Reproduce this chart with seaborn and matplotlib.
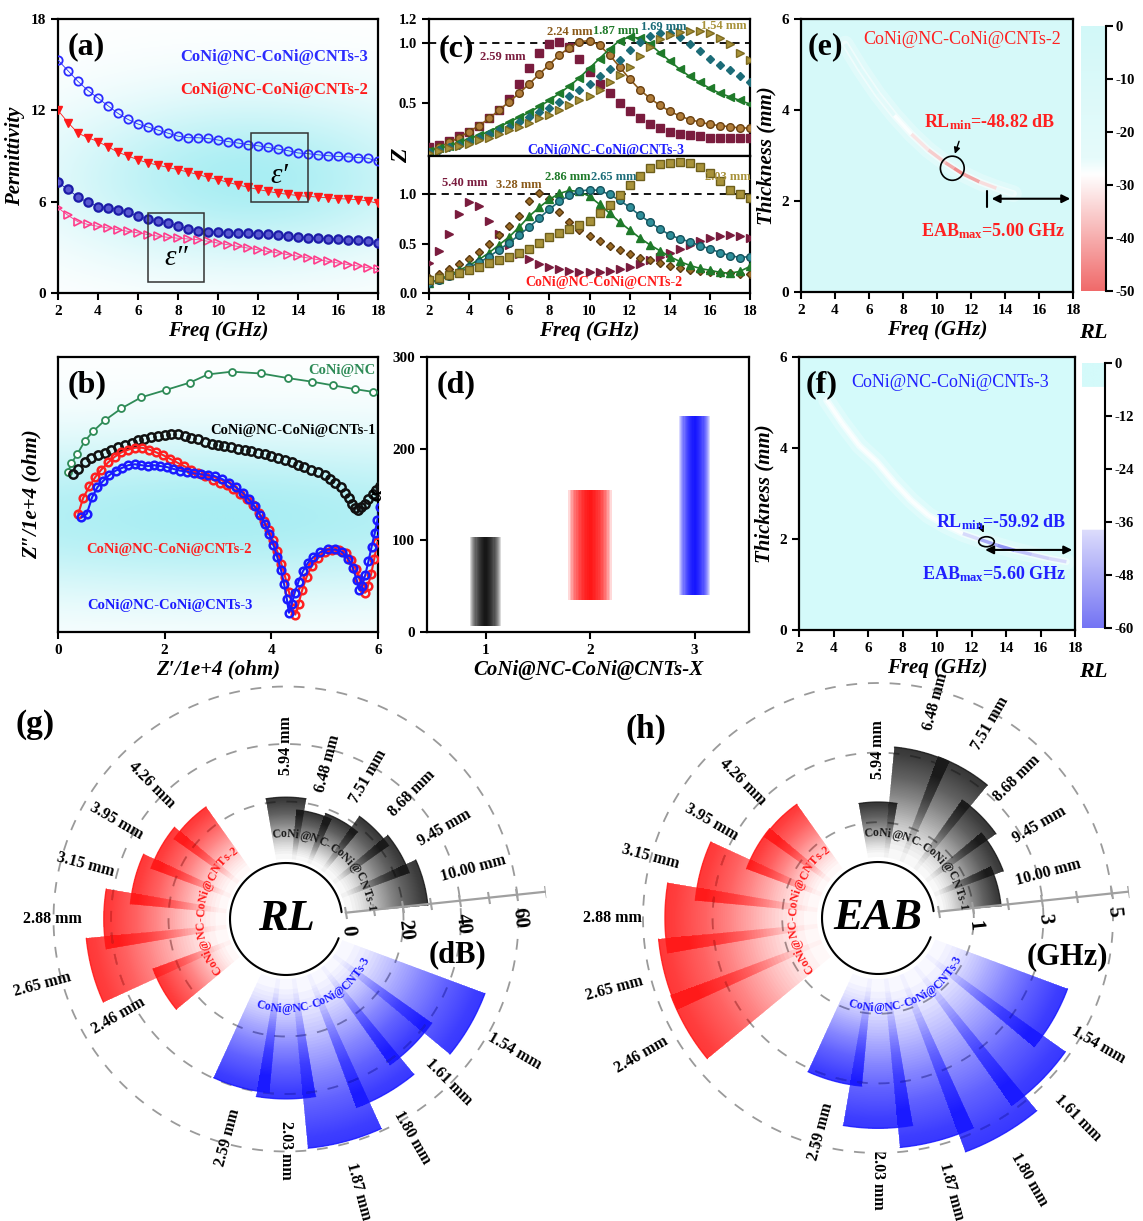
import numpy as np
import matplotlib
matplotlib.use("Agg")
import matplotlib.pyplot as plt
import seaborn as sns
from matplotlib.colors import LinearSegmentedColormap, Normalize
from matplotlib.collections import LineCollection
from matplotlib.patches import Rectangle, Ellipse
from matplotlib.markers import MarkerStyle
from matplotlib.transforms import Affine2D
from matplotlib.textpath import TextToPath
from matplotlib.font_manager import FontProperties
from matplotlib.ticker import FormatStrFormatter

# ---------------- data ----------------
freq = [2.0, 2.5, 3.0, 3.5, 4.0, 4.5, 5.0, 5.5, 6.0, 6.5, 7.0, 7.5, 8.0, 8.5, 9.0, 9.5, 10.0,
        10.5, 11.0, 11.5, 12.0, 12.5, 13.0, 13.5, 14.0, 14.5, 15.0, 15.5, 16.0, 16.5, 17.0, 17.5, 18.0]

# (a) permittivity
eps1_s3 = [15.3, 14.6, 13.9, 13.3, 12.8, 12.3, 11.8, 11.4, 11.1, 10.9, 10.7, 10.5, 10.3, 10.2, 10.2, 10.15, 10.05,
           9.95, 9.85, 9.75, 9.67, 9.56, 9.45, 9.35, 9.2, 9.15, 9.08, 9.02, 8.97, 8.94, 8.9, 8.85, 8.65]
eps1_s2 = [12.0, 11.2, 10.5, 10.2, 9.95, 9.6, 9.25, 9.0, 8.75, 8.55, 8.4, 8.25, 8.1, 7.95, 7.78, 7.6, 7.45,
           7.27, 7.1, 6.95, 6.8, 6.68, 6.56, 6.48, 6.4, 6.35, 6.3, 6.25, 6.2, 6.17, 6.13, 6.05, 5.88]
eps2_s3 = [7.26, 6.8, 6.3, 5.95, 5.68, 5.6, 5.48, 5.3, 5.05, 4.85, 4.72, 4.58, 4.42, 4.2, 4.05, 4.02, 4.0,
           3.97, 3.94, 3.92, 3.9, 3.85, 3.8, 3.74, 3.68, 3.64, 3.6, 3.57, 3.54, 3.5, 3.46, 3.4, 3.28]
eps2_s2 = [5.6, 5.1, 4.68, 4.5, 4.38, 4.27, 4.16, 4.05, 3.95, 3.84, 3.73, 3.66, 3.6, 3.55, 3.5, 3.4, 3.28,
           3.17, 3.06, 2.95, 2.84, 2.73, 2.63, 2.52, 2.41, 2.3, 2.19, 2.08, 1.97, 1.87, 1.77, 1.66, 1.55]

# (c) impedance matching, CNTs-3 (top) and CNTs-2 (bottom)
z3_259 = [0.13, 0.15, 0.18, 0.22, 0.26, 0.31, 0.37, 0.44, 0.53, 0.66, 0.79, 0.92, 0.99, 1.01, 0.97, 0.87, 0.76,
          0.66, 0.58, 0.50, 0.43, 0.37, 0.32, 0.29, 0.26, 0.24, 0.23, 0.22, 0.21, 0.21, 0.21, 0.21, 0.21]
z3_224 = [0.10, 0.13, 0.17, 0.21, 0.26, 0.31, 0.37, 0.44, 0.51, 0.58, 0.66, 0.74, 0.82, 0.90, 0.96, 1.01, 1.02,
          0.98, 0.90, 0.80, 0.70, 0.61, 0.54, 0.48, 0.43, 0.39, 0.36, 0.34, 0.32, 0.31, 0.30, 0.29, 0.29]
z3_187 = [0.10, 0.12, 0.14, 0.17, 0.20, 0.23, 0.26, 0.30, 0.34, 0.38, 0.42, 0.47, 0.52, 0.58, 0.64, 0.71, 0.79,
          0.87, 0.95, 1.02, 1.05, 1.04, 0.99, 0.92, 0.85, 0.78, 0.72, 0.67, 0.62, 0.58, 0.55, 0.52, 0.49]
z3_169 = [0.09, 0.11, 0.13, 0.15, 0.18, 0.21, 0.24, 0.27, 0.30, 0.34, 0.38, 0.42, 0.46, 0.51, 0.56, 0.61, 0.66,
          0.72, 0.78, 0.86, 0.94, 1.01, 1.06, 1.08, 1.08, 1.05, 0.99, 0.93, 0.87, 0.82, 0.77, 0.72, 0.67]
z3_154 = [0.08, 0.10, 0.12, 0.14, 0.16, 0.19, 0.21, 0.24, 0.27, 0.30, 0.33, 0.37, 0.40, 0.44, 0.48, 0.52, 0.56,
          0.61, 0.67, 0.73, 0.80, 0.89, 0.97, 1.03, 1.07, 1.09, 1.10, 1.10, 1.08, 1.04, 0.99, 0.92, 0.86]
z2_540 = [0.30, 0.43, 0.60, 0.80, 0.92, 0.88, 0.73, 0.60, 0.49, 0.40, 0.34, 0.29, 0.26, 0.24, 0.22, 0.21, 0.21,
          0.21, 0.22, 0.24, 0.26, 0.29, 0.33, 0.37, 0.41, 0.45, 0.49, 0.53, 0.56, 0.58, 0.59, 0.58, 0.56]
z2_328 = [0.15, 0.19, 0.24, 0.29, 0.35, 0.42, 0.50, 0.59, 0.68, 0.78, 0.93, 1.01, 0.95, 0.82, 0.72, 0.64, 0.58,
          0.53, 0.48, 0.44, 0.40, 0.36, 0.33, 0.30, 0.27, 0.25, 0.23, 0.22, 0.21, 0.20, 0.20, 0.19, 0.19]
z2_286 = [0.10, 0.14, 0.18, 0.23, 0.28, 0.34, 0.41, 0.49, 0.57, 0.67, 0.78, 0.87, 0.95, 1.01, 1.04, 1.03, 0.98,
          0.90, 0.81, 0.72, 0.64, 0.56, 0.49, 0.43, 0.37, 0.32, 0.28, 0.25, 0.23, 0.21, 0.20, 0.22, 0.27]
z2_265 = [0.10, 0.13, 0.17, 0.21, 0.26, 0.31, 0.37, 0.44, 0.51, 0.59, 0.67, 0.76, 0.85, 0.93, 0.99, 1.03, 1.05,
          1.04, 1.00, 0.94, 0.87, 0.79, 0.72, 0.65, 0.59, 0.55, 0.52, 0.48, 0.45, 0.41, 0.38, 0.36, 0.37]
z2_203 = [0.13, 0.15, 0.18, 0.20, 0.23, 0.26, 0.30, 0.33, 0.37, 0.41, 0.45, 0.51, 0.57, 0.61, 0.65, 0.69, 0.73,
          0.81, 0.89, 0.99, 1.10, 1.19, 1.27, 1.31, 1.32, 1.33, 1.32, 1.28, 1.22, 1.14, 1.05, 1.00, 0.96]

# (b) Cole-Cole type curves
b_nc_x = [0.19, 0.25, 0.36, 0.50, 0.66, 0.88, 1.19, 1.56, 2.02, 2.47, 2.81, 3.26, 3.81, 4.31, 4.77, 5.16, 5.56, 5.90]
b_nc_y = [1.75, 1.84, 1.94, 2.08, 2.19, 2.31, 2.44, 2.56, 2.64, 2.72, 2.81, 2.84, 2.82, 2.77, 2.73, 2.69, 2.65, 2.62]
b_s1_x = [0.28, 0.38, 0.50, 0.62, 0.75, 0.88, 1.00, 1.12, 1.25, 1.38, 1.50, 1.62, 1.75, 1.88, 2.00, 2.12, 2.25, 2.38,
          2.50, 2.62, 2.75, 2.88, 3.00, 3.12, 3.25, 3.38, 3.50, 3.62, 3.75, 3.88, 4.00, 4.12, 4.25, 4.38, 4.50, 4.62,
          4.75, 4.88, 5.00, 5.10, 5.20, 5.30, 5.38, 5.45, 5.52, 5.57, 5.62, 5.68, 5.75, 5.82, 5.90, 5.97, 6.03]
b_s1_y = [1.72, 1.78, 1.85, 1.90, 1.93, 1.95, 1.98, 2.02, 2.04, 2.06, 2.09, 2.11, 2.13, 2.14, 2.15, 2.16, 2.16, 2.14,
          2.12, 2.10, 2.07, 2.05, 2.04, 2.03, 2.02, 2.00, 1.99, 1.97, 1.95, 1.94, 1.92, 1.90, 1.88, 1.85, 1.82, 1.80,
          1.77, 1.74, 1.71, 1.67, 1.63, 1.58, 1.52, 1.46, 1.40, 1.35, 1.33, 1.36, 1.40, 1.45, 1.50, 1.55, 1.59]
b_s2_x = [0.38, 0.47, 0.59, 0.70, 0.81, 0.94, 1.06, 1.19, 1.32, 1.45, 1.58, 1.71, 1.84, 1.97, 2.10, 2.23, 2.36, 2.50,
          2.63, 2.76, 2.90, 3.03, 3.16, 3.29, 3.42, 3.55, 3.66, 3.76, 3.86, 3.95, 4.03, 4.11, 4.19, 4.26, 4.33, 4.40,
          4.45, 4.51, 4.58, 4.66, 4.76, 4.88, 5.01, 5.14, 5.27, 5.40, 5.50, 5.58, 5.65, 5.71, 5.76, 5.81, 5.87, 5.93, 5.99]
b_s2_y = [1.29, 1.46, 1.59, 1.69, 1.77, 1.85, 1.91, 1.96, 1.99, 2.01, 2.01, 1.99, 1.96, 1.93, 1.89, 1.85, 1.81, 1.77,
          1.73, 1.70, 1.66, 1.63, 1.60, 1.56, 1.51, 1.45, 1.38, 1.30, 1.21, 1.11, 1.00, 0.88, 0.74, 0.60, 0.44, 0.26,
          0.19, 0.31, 0.46, 0.60, 0.72, 0.81, 0.87, 0.89, 0.89, 0.86, 0.79, 0.69, 0.58, 0.48, 0.43, 0.50, 0.63, 0.80, 0.98]
b_s3_x = [0.44, 0.54, 0.64, 0.74, 0.85, 0.96, 1.08, 1.20, 1.32, 1.44, 1.56, 1.68, 1.80, 1.92, 2.04, 2.16, 2.29, 2.42,
          2.55, 2.68, 2.81, 2.94, 3.07, 3.20, 3.33, 3.46, 3.58, 3.69, 3.79, 3.88, 3.96, 4.04, 4.11, 4.18, 4.24, 4.29,
          4.33, 4.38, 4.44, 4.51, 4.59, 4.68, 4.79, 4.92, 5.06, 5.20, 5.33, 5.44, 5.53, 5.60, 5.65, 5.70, 5.76, 5.82,
          5.88, 5.94, 5.99, 6.03]
b_s3_y = [1.25, 1.29, 1.47, 1.58, 1.65, 1.71, 1.76, 1.79, 1.82, 1.83, 1.82, 1.81, 1.82, 1.81, 1.80, 1.78, 1.76, 1.75,
          1.73, 1.72, 1.71, 1.70, 1.67, 1.63, 1.58, 1.52, 1.45, 1.37, 1.28, 1.18, 1.07, 0.95, 0.82, 0.68, 0.52, 0.36,
          0.21, 0.30, 0.43, 0.55, 0.66, 0.75, 0.82, 0.87, 0.90, 0.90, 0.87, 0.80, 0.70, 0.57, 0.46, 0.50, 0.62, 0.77,
          0.93, 1.08, 1.22, 1.36]

# (d) attenuation constant range
samples_d = [1, 2, 3]
alpha_low = [6.0, 34.5, 40.7]
alpha_high = [103.6, 155.3, 235.6]

# (e)/(f) RL map ridges (freq, thickness, RL)
ridge_e_f = [4.6, 5.5, 6.5, 7.5, 8.5, 9.5, 10.5, 11.0, 11.5, 12.5, 13.5, 14.5]
ridge_e_t = [5.45, 4.90, 4.35, 3.88, 3.47, 3.12, 2.84, 2.72, 2.60, 2.42, 2.28, 2.16]
ridge_e_rl = [-10, -13, -18, -28, -33, -37, -43, -48.8, -44, -34, -25, -18]
ridge_f_f = [3.6, 4.5, 5.5, 6.5, 7.5, 8.5, 9.5, 10.5, 11.5, 12.5, 13.5, 14.5, 15.5, 16.5, 17.5]
ridge_f_t = [5.05, 4.55, 4.05, 3.70, 3.25, 2.85, 2.52, 2.30, 2.12, 1.99, 1.86, 1.75, 1.66, 1.57, 1.50]
ridge_f_rl = [-8, -10, -12, -15, -18, -22, -28, -34, -40, -52, -58, -46, -42, -40, -38]

# (g)/(h) polar bars per sample group
thick_1 = ["5.94", "6.48", "7.51", "8.68", "9.45", "10.00"]
thick_2 = ["4.26", "3.95", "3.15", "2.88", "2.65", "2.46"]
thick_3 = ["2.59", "2.03", "1.87", "1.80", "1.61", "1.54"]
rl_1 = [21.5, 17.2, 18.3, 23.0, 24.9, 28.7]
rl_2 = [27.0, 29.3, 33.5, 42.5, 48.9, 28.5]
rl_3 = [39.8, 41.7, 59.2, 49.1, 41.4, 53.0]
eab_1 = [1.58, 3.18, 3.19, 2.41, 2.09, 1.80]
eab_2 = [2.26, 2.28, 3.52, 4.37, 4.58, 4.60]
eab_3 = [3.10, 4.29, 4.87, 5.42, 4.86, 4.06]
names = ["CoNi@NC-CoNi@CNTs-1", "CoNi@NC-CoNi@CNTs-2", "CoNi@NC-CoNi@CNTs-3"]

# ---------------- style ----------------
sns.set_theme(style="ticks")
plt.rcParams["font.family"] = ["Liberation Serif", "DejaVu Serif"]
plt.rcParams.update({
    "font.weight": "bold", "axes.labelweight": "bold", "axes.unicode_minus": False,
    "text.color": "black", "axes.labelcolor": "black", "axes.edgecolor": "black",
    "xtick.color": "black", "ytick.color": "black",
    "mathtext.fontset": "custom", "mathtext.rm": "Liberation Serif:bold",
    "mathtext.it": "Liberation Serif:italic:bold", "mathtext.bf": "Liberation Serif:bold",
})

W, H = 1143, 1221
fig = plt.figure(figsize=(W / 100, H / 100), dpi=100)


def add_ax(l, t, r, b, **kw):
    return fig.add_axes([l / W, 1 - b / H, (r - l) / W, (b - t) / H], **kw)


def frame(ax, size=11):
    for s in ax.spines.values():
        s.set_visible(True)
        s.set_linewidth(1.6)
        s.set_color("black")
    ax.tick_params(direction="out", length=5, width=1.5, labelsize=size, top=False, right=False)


def line(ax, x, y, color, marker, ms, ls="-", lw=1.2, mfc=None, mec=None, mew=1.0, z=3):
    sns.lineplot(x=x, y=y, ax=ax, color=color, marker=marker, markersize=ms, linestyle=ls, linewidth=lw,
                 markerfacecolor=color if mfc is None else mfc, markeredgecolor=color if mec is None else mec,
                 markeredgewidth=mew, estimator=None, sort=False, zorder=z)


def plabel(ax, s, x=0.03, y=0.9):
    ax.text(x, y, s, transform=ax.transAxes, fontsize=23, va="center", ha="left", zorder=10)


bg_cmap = LinearSegmentedColormap.from_list("bg", ["#ffffff", "#a9eef3"])
gx, gy = np.meshgrid(np.linspace(0, 1, 200), np.linspace(0, 1, 200))

# ---------------- (a) ----------------
ax = add_ax(58, 19, 378, 293)
glow = np.exp(-(((gx - 0.6) / 0.6) ** 2 + ((gy - 0.42) / 0.3) ** 2))
ax.imshow(glow, extent=[2, 18, 0, 18], origin="lower", aspect="auto", cmap=bg_cmap, vmin=0, vmax=1, zorder=0)
line(ax, freq, eps1_s3, "#2b2bff", "o", 6, lw=0.6, mfc="none", mew=1.3)
line(ax, freq, eps1_s2, "#ff1a1a", "v", 6, lw=0.6)
line(ax, freq, eps2_s3, "#1c1ca8", "o", 6, lw=0.6, mfc="#5a5ad0", mew=1.6)
line(ax, freq, eps2_s2, "#ff3d8b", ">", 6, lw=0.6, mfc="none", mew=1.2)
ax.add_patch(Rectangle((11.65, 6.0), 2.83, 4.5, fill=False, ec="#333333", lw=1.1, zorder=4))
ax.add_patch(Rectangle((6.5, 0.7), 2.8, 4.55, fill=False, ec="#333333", lw=1.1, zorder=4))
ax.text(13.05, 7.7, "ε′", fontsize=21, style="italic", fontweight="normal", ha="center", va="center")
ax.text(7.9, 2.3, "ε″", fontsize=21, style="italic", fontweight="normal", ha="center", va="center")
ax.text(17.5, 15.5, names[2], color="#2b2bff", fontsize=12, ha="right", va="center")
ax.text(17.5, 13.35, names[1], color="#ff1a1a", fontsize=12, ha="right", va="center")
ax.set_xlim(2, 18)
ax.set_ylim(0, 18)
ax.set_xticks(range(2, 19, 2))
ax.set_yticks([0, 6, 12, 18])
frame(ax)
ax.set_xlabel("Freq (GHz)", fontsize=15, style="italic", labelpad=2)
ax.set_ylabel("Permittivity", fontsize=15, style="italic", labelpad=4)
plabel(ax, "(a)")

# ---------------- (c) ----------------
c_maroon, c_brown, c_green, c_teal, c_olive = "#7a1c3e", "#8a5a1a", "#1f7a2a", "#1c6c78", "#a8923a"
axt = add_ax(429, 19, 750, 156)
axb = add_ax(429, 156, 750, 293)
line(axt, freq, z3_259, c_maroon, "s", 5.5, ls="none")
line(axt, freq, z3_224, c_brown, "o", 5.5, lw=1.2, mfc="#b07d3a", mec="#6a4010")
line(axt, freq, z3_187, c_green, "<", 6, lw=1.2)
line(axt, freq, z3_169, c_teal, "D", 4.5, ls="none")
line(axt, freq, z3_154, c_olive, ">", 6, ls="none", mec="#7d6a20")
line(axb, freq, z2_540, c_maroon, ">", 6, ls="none")
line(axb, freq, z2_328, c_brown, "D", 4.5, ls="none", mfc="#9a6a25", mec="#5a3a10")
line(axb, freq, z2_286, c_green, "^", 6, lw=1.2)
line(axb, freq, z2_265, c_teal, "o", 5.5, lw=1.2, mfc="#2f8f9a", mec="#15525c")
line(axb, freq, z2_203, c_olive, "s", 5.5, ls="none", mec="#6e5f1c")
for a_ in (axt, axb):
    a_.axhline(1.0, color="black", lw=1.3, dashes=(4, 3), zorder=2)
    a_.set_xlim(2, 18)
    a_.set_xticks(range(2, 19, 2))
    frame(a_, 10.5)
    a_.yaxis.set_major_formatter(FormatStrFormatter("%.1f"))
axt.set_ylim(0.056, 1.2)
axt.set_yticks([0.5, 1.0, 1.2])
axt.tick_params(bottom=False, labelbottom=False)
axb.set_ylim(0, 1.39)
axb.set_yticks([0.0, 0.5, 1.0])
axb.set_xlabel("Freq (GHz)", fontsize=15, style="italic", labelpad=2)
fig.text(402 / W, 1 - 156 / H, "Z", fontsize=17, style="italic", rotation=90, ha="center", va="center")
for tx, ty, s, c in [(5.7, 0.88, "2.59 mm", c_maroon), (9.0, 1.09, "2.24 mm", c_brown),
                     (11.3, 1.10, "1.87 mm", c_green), (13.7, 1.13, "1.69 mm", c_teal),
                     (16.7, 1.14, "1.54 mm", c_olive)]:
    axt.text(tx, ty, s, color=c, fontsize=9, ha="center", va="center", zorder=5)
axt.text(10.8, 0.1, names[2], color="#2020ff", fontsize=10, ha="center", va="center")
for tx, ty, s, c in [(3.8, 1.12, "5.40 mm", c_maroon), (6.5, 1.10, "3.28 mm", c_brown),
                     (8.9, 1.18, "2.86 mm", c_green), (11.2, 1.18, "2.65 mm", c_teal),
                     (16.9, 1.18, "2.03 mm", c_olive)]:
    axb.text(tx, ty, s, color=c, fontsize=9, ha="center", va="center", zorder=5)
axb.text(10.7, 0.11, names[1], color="#ff1a1a", fontsize=10, ha="center", va="center")
axt.text(0.03, 0.78, "(c)", transform=axt.transAxes, fontsize=23, va="center", ha="left", zorder=10)

# ---------------- (e) & (f) ----------------
cm_e = LinearSegmentedColormap.from_list("e", [(0, "#f06a6a"), (0.44, "#ffffff"), (0.5, "#e6fbfb"), (1, "#d2f8f8")])
norm_e = Normalize(-50, 0)
cm_f = LinearSegmentedColormap.from_list("f", [(0, "#7474f4"), (0.37, "#dcdcfc"), (0.3701, "#ffffff"),
                                              (0.91, "#ffffff"), (0.9101, "#d4fafa"), (1, "#d4fafa")])
norm_f = Normalize(-60, 0)


def rl_map(ax, cax, fr, th, rl, cmap, norm, ticks, bg):
    ax.set_facecolor(bg)
    ax.plot(fr, th, color="white", lw=12, alpha=0.25, solid_capstyle="round", zorder=1)
    ax.plot(fr, th, color="white", lw=5, alpha=0.5, solid_capstyle="round", zorder=1)
    pts = np.array([fr, th]).T.reshape(-1, 1, 2)
    segs = np.concatenate([pts[:-1], pts[1:]], axis=1)
    lc = LineCollection(segs, cmap=cmap, norm=norm, lw=2.5, alpha=0.8, zorder=2)
    lc.set_array(np.array(rl[:-1]))
    ax.add_collection(lc)
    ax.set_xlim(2, 18)
    ax.set_ylim(0, 6)
    ax.set_xticks(range(2, 19, 2))
    ax.set_yticks([0, 2, 4, 6])
    frame(ax)
    ax.set_xlabel("Freq (GHz)", fontsize=15, style="italic", labelpad=2)
    ax.set_ylabel("Thickness (mm)", fontsize=15, style="italic", labelpad=4)
    vmin, vmax = norm.vmin, norm.vmax
    cax.imshow(np.linspace(vmin, vmax, 256)[:, None], aspect="auto", cmap=cmap, norm=norm,
               origin="lower", extent=[0, 1, vmin, vmax])
    for k, s in cax.spines.items():
        s.set_visible(k == "right")
    cax.spines["right"].set_linewidth(1.5)
    cax.set_xticks([])
    cax.yaxis.tick_right()
    cax.set_yticks(ticks)
    cax.set_ylim(vmin, vmax)
    cax.tick_params(axis="y", direction="out", length=5, width=1.5, labelsize=10.5, pad=2, left=False)


ax_e = add_ax(801, 19, 1073, 292)
cax_e = add_ax(1081, 26, 1106, 291)
rl_map(ax_e, cax_e, ridge_e_f, ridge_e_t, ridge_e_rl, cm_e, norm_e, [0, -10, -20, -30, -40, -50], cm_e(norm_e(-5)))
ax_e.add_patch(Ellipse((10.9, 2.72), 1.4, 0.53, fill=False, ec="black", lw=1.2, zorder=4))
ax_e.annotate("", xy=(11.0, 2.98), xytext=(11.35, 3.37),
              arrowprops=dict(arrowstyle="-|>", color="black", lw=1.0, mutation_scale=9))
ax_e.plot([12.96, 12.96], [1.86, 2.22], color="black", lw=1.5)
ax_e.annotate("", xy=(18, 2.05), xytext=(13.05, 2.05),
              arrowprops=dict(arrowstyle="<|-|>", color="black", lw=1.5, mutation_scale=12))
ax_e.text(13.1, 3.73, r"RL$_{\rm min}$=-48.82 dB", color="#ff2020", fontsize=13, ha="center", va="center")
ax_e.text(13.3, 1.34, r"EAB$_{\rm max}$=5.00 GHz", color="#ff2020", fontsize=13, ha="center", va="center")
ax_e.text(11.45, 5.55, names[1], color="#ff2020", fontsize=13, fontweight="normal", ha="center", va="center")
plabel(ax_e, "(e)", 0.025, 0.9)
fig.text(1093 / W, 1 - 333 / H, "RL", fontsize=16, style="italic", ha="center", va="center")

ax_f = add_ax(799, 357, 1075, 630)
cax_f = add_ax(1082, 363, 1105, 628)
rl_map(ax_f, cax_f, ridge_f_f, ridge_f_t, ridge_f_rl, cm_f, norm_f, [0, -12, -24, -36, -48, -60], "#d4fafa")
ax_f.add_patch(Ellipse((12.87, 1.94), 0.9, 0.22, fill=False, ec="black", lw=1.2, zorder=4))
ax_f.annotate("", xy=(12.77, 2.08), xytext=(12.39, 2.41),
              arrowprops=dict(arrowstyle="-|>", color="black", lw=1.0, mutation_scale=9))
ax_f.annotate("", xy=(18, 1.76), xytext=(12.63, 1.76),
              arrowprops=dict(arrowstyle="<|-|>", color="black", lw=1.5, mutation_scale=12))
ax_f.text(13.7, 2.38, r"RL$_{\rm min}$=-59.92 dB", color="#2020ff", fontsize=13, ha="center", va="center")
ax_f.text(13.3, 1.23, r"EAB$_{\rm max}$=5.60 GHz", color="#2020ff", fontsize=13, ha="center", va="center")
ax_f.text(10.74, 5.45, names[2], color="#2020ff", fontsize=13, fontweight="normal", ha="center", va="center")
plabel(ax_f, "(f)", 0.025, 0.9)
fig.text(1093 / W, 1 - 672 / H, "RL", fontsize=16, style="italic", ha="center", va="center")

# ---------------- (b) ----------------
ax = add_ax(58, 357, 378, 632)
glow_b = np.exp(-((gy - 0.42) / 0.3) ** 2) * (0.75 + 0.25 * np.exp(-((gx - 0.5) / 0.6) ** 2))
ax.imshow(glow_b, extent=[0, 6, 0, 3], origin="lower", aspect="auto", cmap=bg_cmap, vmin=0, vmax=1, zorder=0)
line(ax, b_nc_x, b_nc_y, "#2e8b57", "o", 5, lw=1.3, mfc="white", mew=1.3)
line(ax, b_s1_x, b_s1_y, "#111111", "o", 6, ls="none", mfc="none", mew=1.8)
line(ax, b_s2_x, b_s2_y, "#ff2020", "o", 5.5, lw=1.5, mfc="none", mew=1.8)
line(ax, b_s3_x, b_s3_y, "#1a1aff", "o", 5.5, lw=1.5, mfc="none", mew=1.8)
ax.text(5.95, 2.85, "CoNi@NC", color="#2e8b57", fontsize=10.5, ha="right", va="center")
ax.text(5.95, 2.2, names[0], color="black", fontsize=10.5, ha="right", va="center")
ax.text(2.09, 0.9, names[1], color="#ff2020", fontsize=10.5, ha="center", va="center")
ax.text(2.09, 0.29, names[2], color="#1a1aff", fontsize=10.5, ha="center", va="center")
ax.set_xlim(0, 6)
ax.set_ylim(0, 3)
ax.set_xticks([0, 2, 4, 6])
ax.set_yticks([])
frame(ax)
ax.set_xlabel("Z′/1e+4 (ohm)", fontsize=15, style="italic", labelpad=2)
ax.set_ylabel("Z″/1e+4 (ohm)", fontsize=15, style="italic", labelpad=12)
plabel(ax, "(b)")

# ---------------- (d) ----------------
ax = add_ax(427, 357, 749, 632)
bar_cols = ["#000000", "#ff0000", "#0000ff"]
bar_w = [0.30, 0.42, 0.30]
for x, lo, hi, c, w in zip(samples_d, alpha_low, alpha_high, bar_cols, bar_w):
    for k in range(14):
        ax.bar(x, hi - lo, bottom=lo, width=w * (1 - k / 14), color=c, alpha=0.15, linewidth=0, zorder=2)
ax.set_xlim(0.44, 3.52)
ax.set_ylim(0, 300)
ax.set_xticks([1, 2, 3])
ax.set_yticks([0, 100, 200, 300])
frame(ax)
ax.set_xlabel("CoNi@NC-CoNi@CNTs-X", fontsize=15, style="italic", labelpad=2)
ax.set_ylabel("α", fontsize=16, style="italic", labelpad=4)
plabel(ax, "(d)")

# ---------------- (g) & (h) polar ----------------
ttp = TextToPath()


def curved_text(ax, text, center_deg, r_px, rmin, ppu, color, size, clockwise):
    fp = FontProperties(family="Liberation Serif", weight="bold", size=size)
    widths = [ttp.get_text_width_height_descent(ch, fp, ismath=False)[0] * 100 / 72 for ch in text]
    total = sum(widths) / r_px
    r = rmin + r_px / ppu
    c = np.deg2rad(center_deg)
    pos = 0.0
    for ch, w in zip(text, widths):
        a = (pos + w / 2) / r_px
        if clockwise:
            th = c + total / 2 - a
            rot = np.rad2deg(th) - 90
        else:
            th = c - total / 2 + a
            rot = np.rad2deg(th) + 90
        ax.text(th, r, ch, rotation=rot, rotation_mode="anchor", ha="center", va="baseline",
                color=color, fontsize=size, fontweight="bold", zorder=6)
        pos += w


def radial_rot(deg):
    d = deg % 360
    if 90 < d < 270:
        return d - 180
    return d if d <= 90 else d - 360


def polar_panel(cx, cy, r0_px, ppu, rmax, groups, rings, ticks, tick_labels, label_off, center_txt):
    R = r0_px + rmax * ppu
    rmin = -r0_px / ppu
    ax = fig.add_axes([(cx - R) / W, 1 - (cy + R) / H, 2 * R / W, 2 * R / H], projection="polar")
    ax.set_facecolor("none")
    ax.set_ylim(rmin, rmax)
    ax.grid(False)
    ax.set_xticks([])
    ax.set_yticks([])
    ax.spines["polar"].set_visible(False)
    full = np.linspace(0, 2 * np.pi, 400)
    for rv in rings:
        ax.plot(full, [rv] * len(full), color="#9a9a9a", lw=1.3, dashes=(6, 6), zorder=1)
    starts, steps = [90, 135, 255], [-15, 15, 15]
    colors = ["#1a1a1a", "#ff1a1a", "#1a1aff"]
    n = 60
    layer_alpha = 1 - (1 - 0.8) ** (1 / n)
    for g, (vals, labs) in enumerate(groups):
        for i, (v, lab) in enumerate(zip(vals, labs)):
            th_deg = starts[g] + steps[g] * i
            th = np.deg2rad(th_deg)
            # stacked translucent layers that all end at the bar value -> radial fade
            for k in range(n):
                b0 = v * (k / n) ** 0.6
                ax.bar(th, v - b0, width=np.deg2rad(19), bottom=b0, color=colors[g],
                       alpha=layer_alpha, linewidth=0, zorder=2)
            arc = np.deg2rad(np.linspace(th_deg - 9.5, th_deg + 9.5, 20))
            ax.plot(arc, [v] * len(arc), color=colors[g], lw=1.0, alpha=0.8, zorder=3)
            ax.text(th, v + label_off, lab + " mm", rotation=radial_rot(th_deg), rotation_mode="anchor",
                    ha="center", va="center", fontsize=11.5, fontweight="bold", zorder=6)
    curved_text(ax, names[0], 52.5, 82, rmin, ppu, "#1a1a1a", 8.5, True)
    curved_text(ax, names[1], 172.5, 82, rmin, ppu, "#ff1a1a", 8.5, True)
    curved_text(ax, names[2], 292.5, 93, rmin, ppu, "#1a1aff", 8.5, False)
    # radial axis
    th_ax = np.deg2rad(6)
    ax.plot([th_ax, th_ax], [0, ticks[-1]], color="#a0a0a0", lw=1.6, zorder=4)
    ax.plot([th_ax] * len(ticks), ticks, ls="none", color="#a0a0a0", ms=9, mew=1.5, zorder=4,
            marker=MarkerStyle("|", transform=Affine2D().rotate_deg(6)))
    for t, s in tick_labels:
        d = 9 + 4 * len(s)
        ax.annotate(s, xy=(th_ax, t), xytext=(d * np.cos(np.deg2rad(-84)), d * np.sin(np.deg2rad(-84))),
                    textcoords="offset points", rotation=-84, ha="center", va="center", fontsize=15,
                    fontweight="bold", zorder=6)
    circ = np.deg2rad(np.linspace(7, 340, 200))
    ax.plot(circ, [rmin + 56 / ppu] * len(circ), color="black", lw=1.5, zorder=5)
    ax.text(0, rmin, center_txt, fontsize=32, style="italic", fontweight="bold", ha="center", va="center", zorder=6)
    return ax


polar_panel(286, 919, 60, 2.875, 70,
            [(rl_1, thick_1), (rl_2, thick_2), (rl_3, thick_3)],
            [20, 40, 60], [0, 10, 20, 30, 40, 50, 60, 70],
            [(0, "0"), (20, "20"), (40, "40"), (60, "60")], 18, "RL")
fig.text(458 / W, 1 - 955 / H, "(dB)", fontsize=22, ha="center", va="center")
fig.text(35 / W, 1 - 725 / H, "(g)", fontsize=24, ha="center", va="center")

polar_panel(878, 918, 61, 34.8, 5.5,
            [(eab_1, thick_1), (eab_2, thick_2), (eab_3, thick_3)],
            [1, 3, 5], [0, 1, 2, 3, 4, 5, 5.5],
            [(1, "1"), (3, "3"), (5, "5")], 1.5, "EAB")
fig.text(1067 / W, 1 - 957 / H, "(GHz)", fontsize=22, ha="center", va="center")
fig.text(646 / W, 1 - 729 / H, "(h)", fontsize=24, ha="center", va="center")

fig.savefig("out.png", dpi=100)
